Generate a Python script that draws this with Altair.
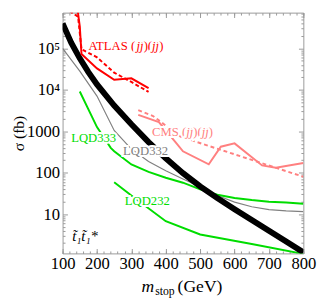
import altair as alt
import pandas as pd

# ---------------- data ----------------
stop_m = [100, 125, 150, 175, 200, 250, 300, 350, 400, 450, 500, 550, 600, 650, 700, 750, 800]
stop_xs = [398000, 138000, 57500, 26900, 13500, 4170, 1480, 550, 224, 97.7, 46.8, 24.5, 13.2, 7.24, 3.98, 2.19, 1.20]

lqd332_m = [100, 150, 200, 250, 300, 350, 400, 450, 500, 550, 600, 650, 700, 750, 800]
lqd332_xs = [100000, 28200, 7080, 1050, 372, 186, 112, 70.8, 45.7, 28.2, 19.5, 15.1, 12.9, 12.0, 11.5]

lqd333_m = [150, 200, 240, 250, 300, 350, 400, 450, 500, 550, 600, 650, 700, 750, 800]
lqd333_xs = [9120, 1260, 398, 331, 158, 105, 75.9, 57.5, 39.8, 29.5, 24.5, 21.9, 20.0, 19.1, 17.8]

lqd232_m = [250, 300, 400, 500, 650, 800]
lqd232_xs = [58.9, 28.2, 6.76, 3.24, 1.91, 1.10]

atlas_obs_m = [144, 150, 155, 200, 250, 300, 350]
atlas_obs_xs = [800000, 340000, 73000, 33000, 17500, 19000, 11000]
atlas_exp_m = [120, 145, 155, 200, 250, 300, 350]
atlas_exp_xs = [800000, 580000, 96000, 61000, 26000, 15500, 8900]

cms_obs_m = [320, 380, 430, 450, 525, 560, 600, 680, 720, 800]
cms_obs_xs = [2500, 1660, 525, 330, 160, 425, 510, 150, 132, 172]
cms_exp_m = [320, 363, 443, 800]
cms_exp_xs = [3240, 2340, 740, 80]

x_major = [100, 200, 300, 400, 500, 600, 700, 800]
x_minor = list(range(100, 801, 20))
y_major = [10, 100, 1000, 10000, 100000]
Y_LO, Y_HI = 1.13, 7.3e5
y_minor = [k * 10 ** e for e in range(0, 6) for k in range(2, 10) if Y_LO <= k * 10 ** e <= Y_HI]

# ---------------- styling ----------------
W = H = 247
SERIF = "Liberation Serif"
FRAME = "#999999"
GREEN = "#00dd00"
RED = "#ff0000"
PINK = "#ff8080"
GRAY = "#808080"

xscale = alt.Scale(domain=[100, 800], nice=False, zero=False)
yscale = alt.Scale(type="log", domain=[Y_LO, Y_HI], nice=False)


def df(m, s):
    return pd.DataFrame({"m": m, "s": s})


def line(m, s, color, width, dash=None):
    kw = dict(color=color, strokeWidth=width, clip=True)
    if dash:
        kw["strokeDash"] = dash
    return alt.Chart(df(m, s)).mark_line(**kw).encode(
        x=alt.X("m:Q", scale=xscale, axis=None),
        y=alt.Y("s:Q", scale=yscale, axis=None),
    )


def axis_layer(xa, ya):
    return alt.Chart(df(stop_m, stop_xs)).mark_point(opacity=0).encode(
        x=alt.X("m:Q", scale=xscale, axis=xa),
        y=alt.Y("s:Q", scale=yscale, axis=ya),
    )


def tick_axis(orient, values, size):
    return alt.Axis(orient=orient, offset=-W, values=values, tickSize=size,
                    tickColor=FRAME, tickWidth=1, labels=False, domain=False,
                    grid=False, title=None)


# approx Times advance widths (em) for splitting mixed-style labels
EM = {"A": .722, "T": .611, "L": .611, "S": .556, "C": .667, "M": .889,
      " ": .25, "(": .333, ")": .333, "j": .278}


def label(pieces, x, y, color, size=13):
    layers = []
    dx = 0.0
    for txt, style in pieces:
        for halo in (True, False):
            kw = dict(align="left", baseline="middle", font=SERIF, fontSize=size,
                      fontStyle=style, color=color, dx=dx)
            if halo:
                kw.update(color="white", stroke="white", strokeWidth=4)
            layers.append(alt.Chart(df([x], [y])).mark_text(**kw).encode(
                x=alt.X("m:Q", scale=xscale, axis=None),
                y=alt.Y("s:Q", scale=yscale, axis=None),
                text=alt.value(txt)))
        dx += sum(EM.get(c, .5) for c in txt) * size
    return layers


label_axes = axis_layer(
    alt.Axis(orient="bottom", values=x_major, ticks=False, domain=False, grid=False,
             labelFont=SERIF, labelFontSize=17, labelColor="black", labelPadding=2,
             labelOverlap=False, labelFlush=False, title=None),
    alt.Axis(orient="left", values=y_major, ticks=False, domain=False, grid=False,
             labelFont=SERIF, labelFontSize=17, labelColor="black", labelPadding=3,
             labelOverlap=False, labelFlush=False,
             labelExpr="datum.value >= 100000 ? '10\u2075' : (datum.value >= 10000 ? '10\u2074' : format(datum.value, 'd'))",
             title="\u03c3 (fb)", titleFont=SERIF, titleFontSize=16, titleFontWeight="normal",
             titleColor="black", titlePadding=0),
)

layers = [
    label_axes,
    axis_layer(tick_axis("top", x_major, 5), tick_axis("right", y_major, 5)),
    axis_layer(tick_axis("top", x_minor, 2.5), tick_axis("right", y_minor, 2.5)),
    axis_layer(tick_axis("bottom", x_major, 5), tick_axis("left", y_major, 5)),
    axis_layer(tick_axis("bottom", x_minor, 2.5), tick_axis("left", y_minor, 2.5)),
    line(lqd332_m, lqd332_xs, GRAY, 1.2),
    line(lqd333_m, lqd333_xs, GREEN, 2),
    line(lqd232_m, lqd232_xs, GREEN, 2),
    line(stop_m, stop_xs, "black", 6),
    line(cms_exp_m, cms_exp_xs, PINK, 2, [4, 3]),
    line(cms_obs_m, cms_obs_xs, PINK, 2),
    line(atlas_exp_m, atlas_exp_xs, RED, 2, [4, 2.5]),
    line(atlas_obs_m, atlas_obs_xs, RED, 2),
]

layers += label([("ATLAS (", "normal"), ("jj", "italic"), (")(", "normal"),
                 ("jj", "italic"), (")", "normal")], 175, 1.16e5, RED)
layers += label([("CMS (", "normal"), ("jj", "italic"), (")(", "normal"),
                 ("jj", "italic"), (")", "normal")], 360, 955, PINK)
layers += label([("LQD333", "normal")], 125, 684, GREEN)
layers += label([("LQD332", "normal")], 276, 340, GRAY)
layers += label([("LQD232", "normal")], 281, 21, GREEN)
layers += label([("t\u0303\u2081t\u0303\u2081*", "italic")], 128, 3.0, "black", 15)

# x-axis title with subscript
one = pd.DataFrame({"a": [0]})
for txt, px, py, size, style in [("m", 81, 287, 18, "italic"),
                                 ("stop", 95, 290, 12, "normal"),
                                 ("(GeV)", 118, 287, 18, "normal")]:
    layers.append(alt.Chart(one).mark_text(align="left", baseline="alphabetic", font=SERIF,
                                           fontSize=size, fontStyle=style, color="black").encode(
        x=alt.value(px), y=alt.value(py), text=alt.value(txt)))

chart = alt.layer(*layers).resolve_axis(x="independent", y="independent").properties(
    width=W, height=H,
    padding={"left": 56, "top": 1, "right": 14, "bottom": 43},
    autosize=alt.AutoSizeParams(type="none"),
).configure_view(stroke=FRAME, strokeWidth=1)

chart.save("out.html", embed_options={"renderer": "svg", "actions": False})
